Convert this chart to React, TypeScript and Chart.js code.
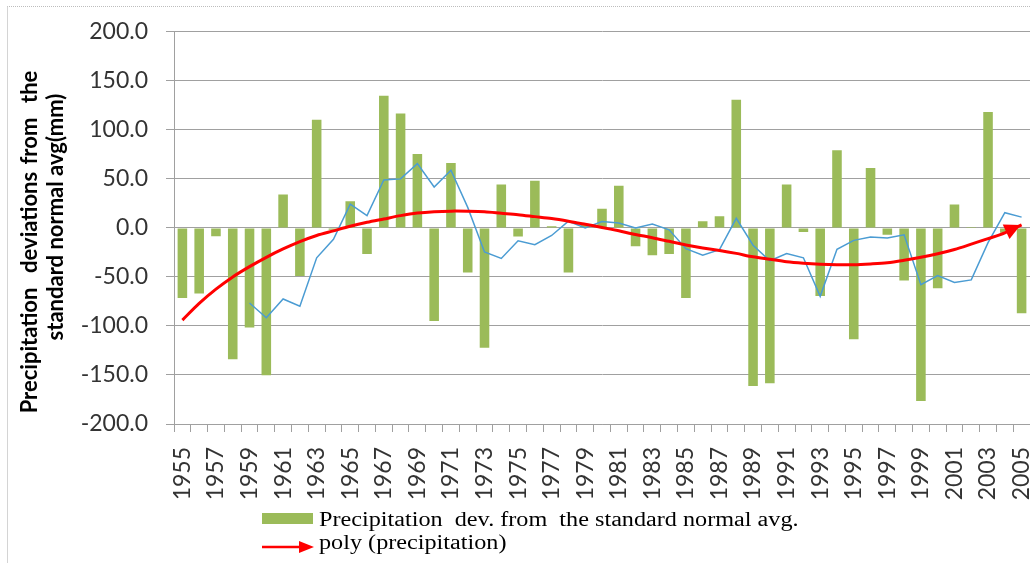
import React, { useEffect, useRef } from 'react';
import { Chart, registerables } from 'chart.js';

Chart.register(...registerables);

const years: string[] = [
  '1955', '1956', '1957', '1958', '1959', '1960', '1961', '1962', '1963', '1964',
  '1965', '1966', '1967', '1968', '1969', '1970', '1971', '1972', '1973', '1974',
  '1975', '1976', '1977', '1978', '1979', '1980', '1981', '1982', '1983', '1984',
  '1985', '1986', '1987', '1988', '1989', '1990', '1991', '1992', '1993', '1994',
  '1995', '1996', '1997', '1998', '1999', '2000', '2001', '2002', '2003', '2004',
  '2005',
];

const precipitationDev: number[] = [
  -71.5, -66.8, -8.4, -134, -101.7, -150.4, 34, -49, 110.2, -2,
  27.2, -26.5, 134.7, 116.6, 75.3, -95, 66.2, -45.6, -122.2, 44.3,
  -8.7, 48, 1.7, -45.6, 4, 19.5, 43, -18.8, -27.8, -26.5,
  -71.5, 6.7, 12, 130.7, -161.2, -158.5, 44.3, -4.3, -69.5, 79.3,
  -113.5, 61.2, -7, -53.7, -176.6, -61.5, 23.9, 1, 118.3, -5,
  -87,
];

const movingAverage: (number | null)[] = [
  null, null, null, null, -76.6, -91.7, -72.5, -79.9, -30.5, -11.7,
  24.2, 12.5, 48.8, 50, 65.5, 41.7, 58.8, 20.9, -24.5, -31.2,
  -13.1, -17.1, -7.7, 6.8, 0, 6.4, 5, 0, 4, -2,
  -21.2, -27.8, -22.2, 9.8, -17.7, -33.5, -26.2, -30.5, -69.8, -21.8,
  -12.7, -9.4, -10.4, -7, -58, -48.7, -55.7, -53, -15, 15.5,
  11,
];

const polyTrend: number[] = [
  -94, -77, -62.5, -50, -39.5, -30, -21.5, -14, -7.7, -3,
  1.7, 5.7, 9.1, 12.5, 15.1, 16.5, 17.1, 17, 16.5, 15,
  13.5, 11.5, 9.5, 6.8, 3.7, 0.5, -3, -6.7, -10, -13.7,
  -17.4, -20.5, -23, -26, -29.5, -32, -34.5, -36, -37, -37.5,
  -37.5, -36.7, -35.5, -33, -30, -26.4, -22, -16.6, -11, -5,
  3,
];

const yMin = -200;
const yMax = 200;
const yStep = 50;

const barLabel = 'Precipitation  dev. from  the standard normal avg.';
const polyLabel = 'poly (precipitation)';
const titleLine1 = 'Precipitation  deviations from  the';
const titleLine2 = 'standard normal avg(mm)';

const GREEN = '#9bbb59';
const BLUE = '#4b9cd3';
const RED = '#ff0000';
const GRID = '#a0a0a0';

const arrowPlugin = {
  id: 'arrowHead',
  afterDatasetsDraw(chart: any) {
    const meta = chart.getDatasetMeta(2);
    if (!meta || !meta.data || meta.data.length < 2) return;
    const pts = meta.data;
    const last = pts[pts.length - 1];
    const prev = pts[pts.length - 2];
    const ang = Math.atan2(last.y - prev.y, last.x - prev.x);
    const len = 16;
    const half = 8;
    const ctx = chart.ctx;
    const tx = last.x - 1;
    const ty = last.y;
    const bx = tx - len * Math.cos(ang);
    const by = ty - len * Math.sin(ang);
    ctx.save();
    ctx.fillStyle = RED;
    ctx.beginPath();
    ctx.moveTo(tx, ty);
    ctx.lineTo(bx + half * Math.sin(ang), by - half * Math.cos(ang));
    ctx.lineTo(bx - half * Math.sin(ang), by + half * Math.cos(ang));
    ctx.closePath();
    ctx.fill();
    ctx.restore();
  },
};

export default function App() {
  const canvasRef = useRef<HTMLCanvasElement | null>(null);

  useEffect(() => {
    if (!canvasRef.current) return;
    const chart = new Chart(canvasRef.current, {
      type: 'bar',
      data: {
        labels: years,
        datasets: [
          {
            type: 'bar',
            label: barLabel,
            data: precipitationDev,
            backgroundColor: GREEN,
            borderWidth: 0,
            barPercentage: 1,
            categoryPercentage: 0.57,
            order: 3,
          } as any,
          {
            type: 'line',
            label: 'moving average',
            data: movingAverage,
            borderColor: BLUE,
            borderWidth: 1.5,
            pointRadius: 0,
            tension: 0,
            spanGaps: false,
            order: 2,
          } as any,
          {
            type: 'line',
            label: polyLabel,
            data: polyTrend,
            borderColor: RED,
            borderWidth: 3,
            pointRadius: 0,
            tension: 0.3,
            order: 1,
          } as any,
        ],
      },
      options: {
        responsive: false,
        animation: false,
        devicePixelRatio: 1,
        layout: { padding: { top: 27, right: 0, bottom: 0, left: 0 } },
        plugins: {
          legend: { display: false },
          tooltip: { enabled: false },
          title: { display: false },
        },
        scales: {
          x: {
            offset: true,
            grid: {
              display: true,
              drawOnChartArea: false,
              drawTicks: true,
              tickLength: 8,
              offset: true,
              color: GRID,
            },
            border: { display: true, color: GRID },
            ticks: {
              autoSkip: false,
              minRotation: 90,
              maxRotation: 90,
              padding: 15,
              color: '#333333',
              font: { family: 'Lato', size: 23 },
              callback: (_v: any, i: number) => (i % 2 === 0 ? years[i] : ''),
            },
            afterFit: (scale: any) => {
              scale.height = 139;
              scale.paddingLeft = 0;
              scale.paddingRight = 0;
            },
          },
          y: {
            min: yMin,
            max: yMax,
            grid: {
              color: GRID,
              drawTicks: true,
              tickLength: 8,
            },
            border: { display: true, color: GRID },
            ticks: {
              stepSize: yStep,
              padding: 18,
              color: '#333333',
              font: { family: 'Lato', size: 23 },
              callback: (v: any) => Number(v).toFixed(1),
            },
            afterFit: (scale: any) => {
              scale.width = 174;
            },
          },
        },
      },
      plugins: [arrowPlugin],
    });
    return () => chart.destroy();
  }, []);

  const titleStyle = (cx: number, cy: number, wordSpacing: number): React.CSSProperties => ({
    position: 'absolute',
    left: cx,
    top: cy,
    transform: 'translate(-50%, -50%) rotate(-90deg)',
    whiteSpace: 'pre',
    font: 'bold 22px Lato',
    wordSpacing,
    lineHeight: 1,
    color: '#000',
  });

  const legendText = (top: number): React.CSSProperties => ({
    position: 'absolute',
    left: 319,
    top,
    font: '20px "Liberation Serif"',
    lineHeight: '20px',
    whiteSpace: 'pre',
    color: '#000',
    transform: 'scaleX(1.21)',
    transformOrigin: 'left center',
  });

  return (
    <div
      style={{
        position: 'fixed',
        left: 0,
        top: 0,
        width: 1030,
        height: 563,
        overflow: 'hidden',
        background: '#fff',
      }}
    >
      <canvas ref={canvasRef} width={1030} height={563} style={{ display: 'block', width: 1030, height: 563 }} />
      <div
        style={{
          position: 'absolute',
          left: 7,
          top: 6,
          width: 1040,
          height: 600,
          borderTop: '1px dotted #bdbdbd',
          borderLeft: '1px solid #d4d4d4',
          pointerEvents: 'none',
        }}
      />
      <div style={titleStyle(28.5, 241.5, 2)}>{titleLine1}</div>
      <div style={titleStyle(55, 216.5, 0)}>{titleLine2}</div>
      <div style={{ position: 'absolute', left: 262, top: 513, width: 51, height: 11, background: GREEN }} />
      <div style={legendText(509)}>{barLabel}</div>
      <svg style={{ position: 'absolute', left: 262, top: 540 }} width={52} height={14}>
        <line x1={0} y1={7} x2={40} y2={7} stroke={RED} strokeWidth={2.5} />
        <polygon points="37,1 52,7 37,13" fill={RED} />
      </svg>
      <div style={legendText(532)}>{polyLabel}</div>
    </div>
  );
}
